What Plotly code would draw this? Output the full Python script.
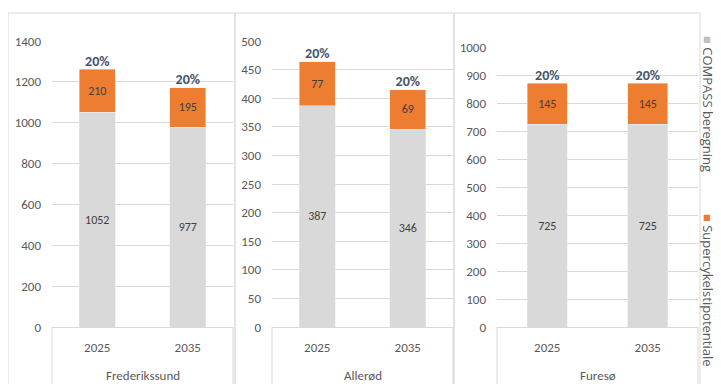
import plotly.graph_objects as go

municipalities = ["Frederikssund", "Allerød", "Furesø"]
years = ["2025", "2035"]
compass = {
    "Frederikssund": [1052, 977],
    "Allerød": [387, 346],
    "Furesø": [725, 725],
}
supercykel = {
    "Frederikssund": [210, 195],
    "Allerød": [77, 69],
    "Furesø": [145, 145],
}
y_max = {"Frederikssund": 1400, "Allerød": 500, "Furesø": 1000}
y_step = {"Frederikssund": 200, "Allerød": 50, "Furesø": 100}
legend_names = ["COMPASS beregning", "Supercykelstipotentiale"]

GREY = "#D9D9D9"
ORANGE = "#ED7D31"
TXT = "#595959"
FONT = "Carlito, Calibri, Lato, Liberation Sans, Arial"

W, H = 721, 384
OFF = 8  # page body margin offset
# page-pixel layout of each panel: (plot left, plot right, plot top, plot bottom)
panels_px = [(52, 233, 41, 327), (272, 453, 41, 327), (497, 698, 47, 327)]
borders_px = [(8, 235), (235, 454), (454, 700)]


def px(xp):
    return (xp - OFF) / W


def py(yp):
    return (H - (yp - OFF)) / H


fig = go.Figure()
layout = {}
shapes = []
annotations = []
for i, m in enumerate(municipalities):
    ax = "" if i == 0 else str(i + 1)
    xref = "x" + ax
    yref = "y" + ax
    fig.add_trace(go.Bar(
        x=years, y=compass[m], name=legend_names[0], marker_color=GREY,
        texttemplate="%{y}", textposition="inside",
        insidetextanchor="middle", textangle=0,
        textfont=dict(color="#404040", size=12, family=FONT),
        xaxis=xref, yaxis=yref, showlegend=False,
    ))
    fig.add_trace(go.Bar(
        x=years, y=supercykel[m], name=legend_names[1], marker_color=ORANGE,
        texttemplate="%{y}", textposition="inside",
        insidetextanchor="middle", textangle=0,
        textfont=dict(color="#404040", size=12, family=FONT),
        xaxis=xref, yaxis=yref, showlegend=False,
    ))
    totals = [c + s for c, s in zip(compass[m], supercykel[m])]
    pcts = ["%d%%" % round(100 * s / c) for c, s in zip(compass[m], supercykel[m])]
    fig.add_trace(go.Scatter(
        x=years, y=totals, mode="text", text=["<b>%s</b>" % p for p in pcts],
        textposition="top center",
        textfont=dict(color="#44546A", size=14, family=FONT),
        xaxis=xref, yaxis=yref, showlegend=False, cliponaxis=False,
    ))
    l, r, t, b = panels_px[i]
    layout["xaxis" + ax] = dict(
        domain=[px(l), px(r)], anchor=yref, type="category",
        showline=True, linecolor=GREY, linewidth=1,
        tickfont=dict(color=TXT, size=13, family=FONT),
        ticks="", showgrid=False, automargin=False, ticklabelstandoff=8,
    )
    layout["yaxis" + ax] = dict(
        domain=[py(b), py(t)], anchor=xref,
        range=[0, y_max[m]], dtick=y_step[m], tick0=0,
        showgrid=True, gridcolor=GREY, gridwidth=1,
        zeroline=False, showline=False, automargin=False,
        tickfont=dict(color=TXT, size=13, family=FONT),
        ticklabelstandoff=10,
    )
    # category-box divider lines below the axis
    for xd in (0, 1):
        shapes.append(dict(type="line", xref=xref + " domain", yref="paper",
                           x0=xd, x1=xd, y0=py(327), y1=py(400),
                           line=dict(color=GREY, width=1)))
    annotations.append(dict(xref=xref + " domain", yref="paper", x=0.5, y=py(375),
                            xanchor="center", yanchor="middle", text=m,
                            showarrow=False,
                            font=dict(color=TXT, size=13, family=FONT)))

for x0, x1 in borders_px:
    shapes.append(dict(type="rect", xref="paper", yref="paper",
                       x0=px(x0), x1=px(x1), y0=py(400), y1=py(13),
                       line=dict(color=GREY, width=1), layer="below"))

annotations += [
    dict(xref="paper", yref="paper", x=px(708), y=py(104),
         xanchor="center", yanchor="middle",
         text="<span style='color:#BFBFBF'>■</span> " + legend_names[0],
         textangle=90, showarrow=False,
         font=dict(color=TXT, size=13, family="Open Sans, Liberation Sans")),
    dict(xref="paper", yref="paper", x=px(708), y=py(290),
         xanchor="center", yanchor="middle",
         text="<span style='color:%s'>■</span> " % ORANGE + legend_names[1],
         textangle=90, showarrow=False,
         font=dict(color=TXT, size=13, family="Open Sans, Liberation Sans")),
]

fig.update_layout(
    width=W, height=H, margin=dict(l=0, r=0, t=0, b=0, autoexpand=False),
    paper_bgcolor="white", plot_bgcolor="white",
    barmode="stack", bargap=0.6, showlegend=False,
    shapes=shapes, annotations=annotations,
    font=dict(family=FONT, color=TXT),
    **layout,
)
fig.write_html("out.html")
